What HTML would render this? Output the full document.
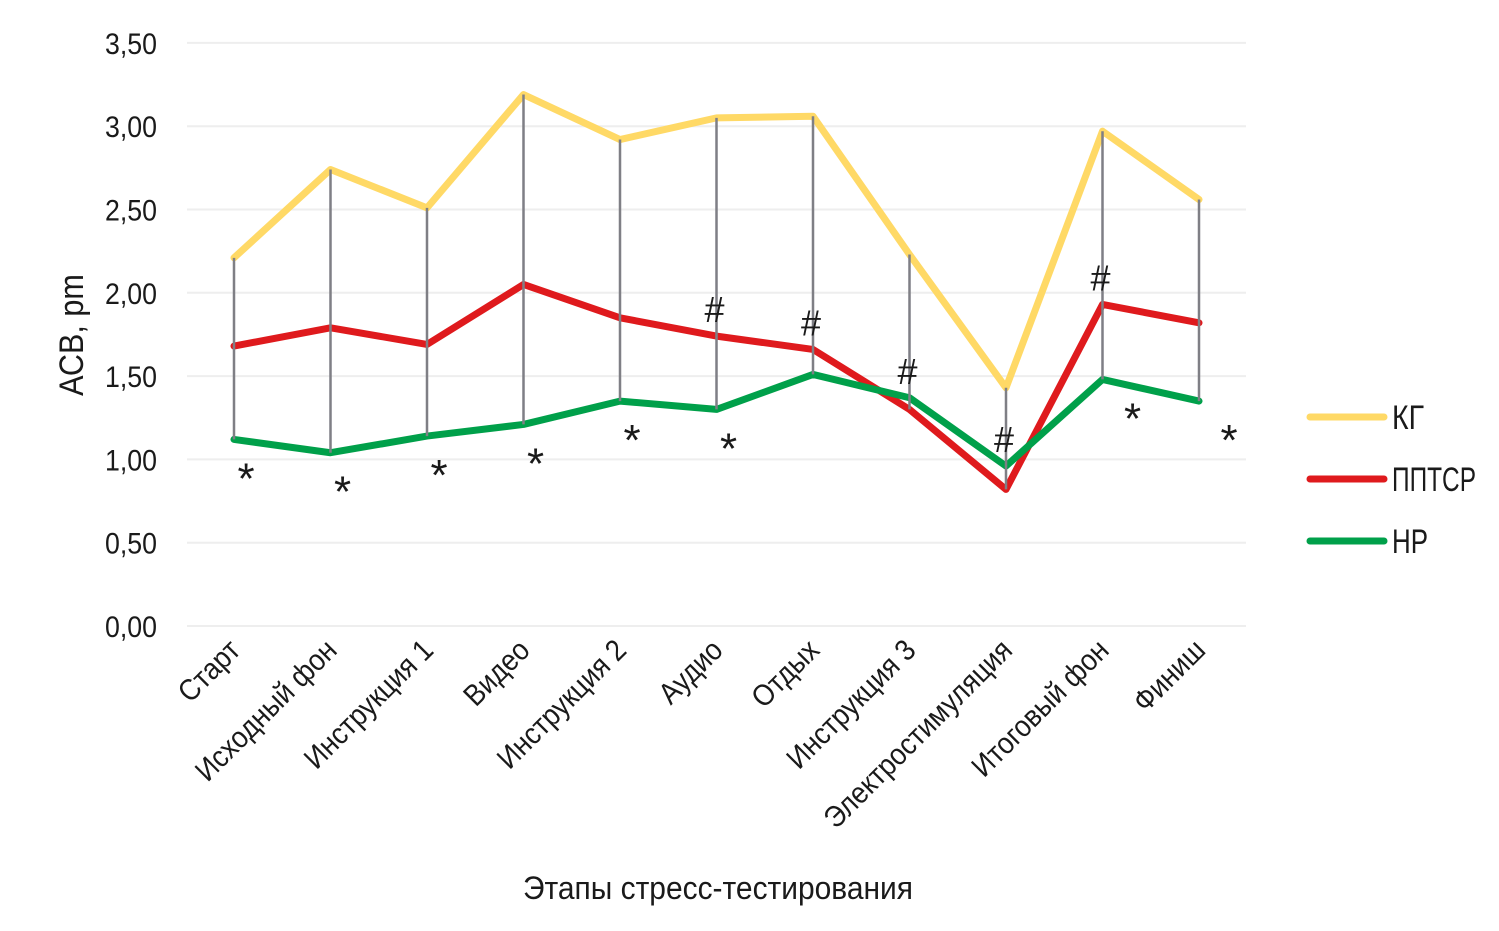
<!DOCTYPE html>
<html><head><meta charset="utf-8"><style>
body{margin:0;background:#fff}
text{font-family:"Liberation Sans Narrow","Liberation Sans",sans-serif;fill:#1a1a1a}
</style></head><body>
<svg width="1499" height="926" viewBox="0 0 1499 926" id="c"></svg>
<script>
const categories=["Старт","Исходный фон","Инструкция 1","Видео","Инструкция 2","Аудио","Отдых","Инструкция 3","Электростимуляция","Итоговый фон","Финиш"];
const kg=[2.21,2.74,2.51,3.19,2.92,3.05,3.06,2.23,1.43,2.97,2.56];
const pptsr=[1.68,1.79,1.69,2.05,1.85,1.74,1.66,1.30,0.82,1.93,1.82];
const hp=[1.12,1.04,1.14,1.21,1.35,1.30,1.51,1.37,0.96,1.48,1.35];
const yTicks=["0,00","0,50","1,00","1,50","2,00","2,50","3,00","3,50"];
const starIdx=[0,1,2,3,4,5,9,10];
const hashIdx=[5,6,7,8,9];
const svg=document.getElementById('c');
const NS='http://www.w3.org/2000/svg';
const X=i=>234+i*96.5;
const Y=v=>626-v*166.6;
function el(t,a,p){const e=document.createElementNS(NS,t);for(const k in a)e.setAttribute(k,a[k]);(p||svg).appendChild(e);return e;}
yTicks.forEach((t,i)=>{
 const v=parseFloat(t.replace(',','.'));
 const g=el('line',{x1:187,x2:1246,y1:Y(v),y2:Y(v),stroke:'#eeeeee','stroke-width':2});
 
 
 const tx=el('text',{x:157,y:Y(v)+11,'text-anchor':'end','font-size':30,textLength:52,lengthAdjust:'spacingAndGlyphs'});
 tx.textContent=t;
 
 
});
function series(vals,color,name){
 const p=el('polyline',{points:vals.map((v,i)=>X(i)+','+Y(v)).join(' '),fill:'none',stroke:color,'stroke-width':7,'stroke-linejoin':'round','stroke-linecap':'round'});
 
 
}
series(kg,'#FFD966','series-kg');
series(pptsr,'#DF1A1D','series-pptsr');
series(hp,'#00A04A','series-hp');
categories.forEach((c,i)=>{
 const hi=Math.max(kg[i],pptsr[i],hp[i]),lo=Math.min(kg[i],pptsr[i],hp[i]);
 const l=el('line',{x1:X(i),x2:X(i),y1:Y(hi),y2:Y(lo),stroke:'#7f7f85','stroke-width':2.5});
 
 
 const t=el('text',{'text-anchor':'end','font-size':30,transform:`translate(${X(i)+8},${652}) rotate(-45) scale(0.9,1)`});
 t.textContent=c;
 
 
});
starIdx.forEach(i=>{
 const t=el('text',{x:X(i)+(i>=9?30:12),y:Y(hp[i])+54,'text-anchor':'middle','font-size':44});
 t.textContent='*';
 
 
});
hashIdx.forEach(i=>{
 const t=el('text',{x:X(i)-2,y:Y(Math.max(pptsr[i],hp[i]))-14,'text-anchor':'middle','font-size':36});
 t.textContent='#';
 
 
});
const yt=el('text',{'text-anchor':'middle','font-size':34,transform:'translate(83,335) rotate(-90) scale(0.9,1)'});
yt.textContent='АСВ, pm';


const xt=el('text',{x:718,y:899,'text-anchor':'middle','font-size':32,textLength:390,lengthAdjust:'spacingAndGlyphs'});
xt.textContent='Этапы стресс-тестирования';


[['КГ','#FFD966',417,32],['ППТСР','#DF1A1D',479,84],['НР','#00A04A',541,36]].forEach(([n,c,y,w])=>{
 const g=el('g',{});
 
 
 el('line',{x1:1310,x2:1384,y1:y,y2:y,stroke:c,'stroke-width':7,'stroke-linecap':'round'},g);
 const t=el('text',{x:1392,y:y+12,'font-size':34,textLength:w,lengthAdjust:'spacingAndGlyphs'},g);
 t.textContent=n;
});
</script>
</body></html>
